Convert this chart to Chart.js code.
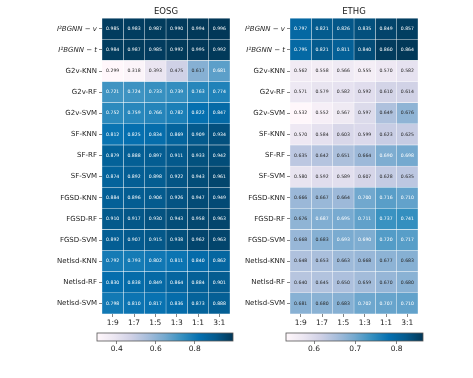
<!DOCTYPE html>
<html>
<head>
<meta charset="utf-8">
<script src="https://cdn.jsdelivr.net/npm/chart.js@4"></script>
<style>
  body { margin: 0; background: #fff; }
  #wrap { position: relative; width: 473px; height: 378px; overflow: hidden; }
  canvas { position: absolute; }
</style>
</head>
<body>
<div id="wrap">
  <canvas id="hmLeft" width="236" height="335" style="left:0px;top:0px"></canvas>
  <canvas id="cbLeft" width="236" height="35" style="left:0px;top:325px"></canvas>
  <canvas id="hmRight" width="237" height="335" style="left:236px;top:0px"></canvas>
  <canvas id="cbRight" width="237" height="35" style="left:236px;top:325px"></canvas>
</div>
<script>
// rows / columns
const rowNames = [
  "I²BGNN − v", "I²BGNN − t",
  "G2v-KNN", "G2v-RF", "G2v-SVM",
  "SF-KNN", "SF-RF", "SF-SVM",
  "FGSD-KNN", "FGSD-RF", "FGSD-SVM",
  "Netlsd-KNN", "Netlsd-RF", "Netlsd-SVM",
];
const ratios = ["1:9", "1:7", "1:5", "1:3", "1:1", "3:1"];

// EOSG values, one array per row
const eosg = [
  [0.985, 0.983, 0.987, 0.990, 0.994, 0.996],
  [0.984, 0.987, 0.985, 0.992, 0.995, 0.992],
  [0.299, 0.318, 0.393, 0.475, 0.617, 0.681],
  [0.721, 0.724, 0.733, 0.739, 0.763, 0.774],
  [0.752, 0.759, 0.766, 0.782, 0.822, 0.847],
  [0.812, 0.825, 0.834, 0.869, 0.909, 0.934],
  [0.879, 0.888, 0.897, 0.911, 0.933, 0.942],
  [0.874, 0.892, 0.898, 0.922, 0.943, 0.961],
  [0.884, 0.896, 0.906, 0.926, 0.947, 0.949],
  [0.910, 0.917, 0.930, 0.943, 0.958, 0.963],
  [0.892, 0.907, 0.915, 0.938, 0.962, 0.963],
  [0.792, 0.793, 0.802, 0.811, 0.840, 0.862],
  [0.830, 0.838, 0.849, 0.864, 0.884, 0.901],
  [0.798, 0.810, 0.817, 0.836, 0.873, 0.888],
];

// ETHG values
const ethg = [
  [0.797, 0.821, 0.826, 0.835, 0.849, 0.857],
  [0.795, 0.821, 0.811, 0.840, 0.860, 0.864],
  [0.562, 0.558, 0.566, 0.555, 0.570, 0.582],
  [0.571, 0.579, 0.582, 0.592, 0.610, 0.614],
  [0.532, 0.552, 0.567, 0.597, 0.649, 0.676],
  [0.570, 0.584, 0.603, 0.599, 0.623, 0.625],
  [0.635, 0.642, 0.651, 0.664, 0.690, 0.698],
  [0.580, 0.592, 0.589, 0.607, 0.628, 0.635],
  [0.666, 0.667, 0.664, 0.700, 0.716, 0.710],
  [0.676, 0.687, 0.695, 0.711, 0.737, 0.741],
  [0.668, 0.683, 0.693, 0.690, 0.720, 0.717],
  [0.648, 0.653, 0.663, 0.668, 0.677, 0.683],
  [0.640, 0.645, 0.650, 0.659, 0.670, 0.680],
  [0.681, 0.680, 0.683, 0.702, 0.707, 0.710],
];

const eosgTicks = [0.4, 0.6, 0.8];
const ethgTicks = [0.6, 0.7, 0.8];

// matplotlib PuBu
const PUBU = ["#fff7fb", "#ece7f2", "#d0d1e6", "#a6bddb", "#74a9cf", "#3690c0", "#0570b0", "#045a8d", "#023858"];
const FONT = "'DejaVu Sans', sans-serif";

function hexRgb(h) {
  return [1, 3, 5].map((i) => parseInt(h.slice(i, i + 2), 16));
}
function pubu(t) {
  t = Math.min(1, Math.max(0, t)) * (PUBU.length - 1);
  const i = Math.min(PUBU.length - 2, Math.floor(t));
  const f = t - i;
  const a = hexRgb(PUBU[i]), b = hexRgb(PUBU[i + 1]);
  return a.map((v, k) => Math.round(v + (b[k] - v) * f));
}
function luminance(rgb) {
  const c = rgb.map((v) => {
    v /= 255;
    return v <= 0.03928 ? v / 12.92 : Math.pow((v + 0.055) / 1.055, 2.4);
  });
  return 0.2126 * c[0] + 0.7152 * c[1] + 0.0722 * c[2];
}

const annotate = {
  id: "annotate",
  afterDatasetsDraw(chart) {
    const { ctx } = chart;
    const vals = chart.options.plugins.annotate.values;
    const lo = chart.options.plugins.annotate.vmin, hi = chart.options.plugins.annotate.vmax;
    ctx.save();
    ctx.font = "4.6px " + FONT;
    ctx.textAlign = "center";
    ctx.textBaseline = "middle";
    chart.data.datasets.forEach((ds, j) => {
      chart.getDatasetMeta(j).data.forEach((bar, i) => {
        const v = vals[i][j];
        const rgb = pubu((v - lo) / (hi - lo));
        ctx.fillStyle = luminance(rgb) > 0.408 ? "#262626" : "#ffffff";
        ctx.fillText(v.toFixed(3), (bar.x + bar.base) / 2, bar.y);
      });
    });
    ctx.restore();
  },
};

function heatmap(id, title, vals, yWidth, padRight) {
  const flat = vals.flat();
  const lo = Math.min(...flat), hi = Math.max(...flat);
  const datasets = ratios.map((r, j) => ({
    label: r,
    data: rowNames.map(() => 1),
    backgroundColor: vals.map((row) => "rgb(" + pubu((row[j] - lo) / (hi - lo)).join(",") + ")"),
    borderColor: "rgba(255,255,255,0.55)",
    borderWidth: 0.5,
    borderSkipped: false,
    categoryPercentage: 1,
    barPercentage: 1,
  }));
  new Chart(document.getElementById(id), {
    type: "bar",
    data: { labels: rowNames, datasets },
    options: {
      indexAxis: "y",
      responsive: false,
      animation: false,
      layout: { padding: { left: 0, right: padRight, top: 0, bottom: 0 } },
      plugins: {
        legend: { display: false },
        tooltip: { enabled: false },
        title: {
          display: true,
          text: title,
          fullSize: false,
          color: "#222",
          font: { family: FONT, size: 8.5, weight: "normal" },
          padding: { top: 7, bottom: 1 },
        },
        annotate: { values: vals, vmin: lo, vmax: hi },
      },
      scales: {
        x: {
          type: "linear",
          stacked: true,
          min: 0,
          max: ratios.length,
          afterBuildTicks: (s) => { s.ticks = ratios.map((_, i) => ({ value: i + 0.5 })); },
          afterFit: (s) => { s.height = 21; },
          ticks: {
            autoSkip: false,
            maxRotation: 0,
            padding: 2,
            color: "#222",
            font: { family: FONT, size: 7.5 },
            callback: (v, i) => ratios[i],
          },
          grid: { drawOnChartArea: false, drawTicks: true, tickLength: 3, color: "#333", lineWidth: 0.6 },
          border: { display: false },
        },
        y: {
          type: "category",
          stacked: true,
          afterFit: (s) => { s.width = yWidth; },
          ticks: {
            autoSkip: false,
            padding: 2,
            color: "#222",
            font: (c) => ({ family: FONT, size: 7, style: c.index < 2 ? "italic" : "normal" }),
          },
          grid: { offset: false, drawOnChartArea: false, drawTicks: true, tickLength: 3, color: "#333", lineWidth: 0.6 },
          border: { display: false },
        },
      },
    },
    plugins: [annotate],
  });
  return [lo, hi];
}

const gradientFill = {
  id: "gradientFill",
  beforeDatasetsDraw(chart) {
    const { ctx, chartArea: a } = chart;
    const g = ctx.createLinearGradient(a.left, 0, a.right, 0);
    PUBU.forEach((c, i) => g.addColorStop(i / (PUBU.length - 1), c));
    ctx.save();
    ctx.fillStyle = g;
    ctx.fillRect(a.left, a.top, a.right - a.left, a.bottom - a.top);
    ctx.strokeStyle = "#555";
    ctx.lineWidth = 0.8;
    ctx.strokeRect(a.left, a.top, a.right - a.left, a.bottom - a.top);
    ctx.restore();
  },
};

function colorbar(id, range, tickVals, padLeft, padRight) {
  new Chart(document.getElementById(id), {
    type: "scatter",
    data: { datasets: [{ data: [] }] },
    options: {
      responsive: false,
      animation: false,
      layout: { padding: { left: padLeft, right: padRight, top: 8, bottom: 0 } },
      plugins: { legend: { display: false }, tooltip: { enabled: false } },
      scales: {
        x: {
          type: "linear",
          min: range[0],
          max: range[1],
          afterBuildTicks: (s) => { s.ticks = tickVals.map((v) => ({ value: v })); },
          afterFit: (s) => { s.height = 19; },
          ticks: {
            autoSkip: false,
            maxRotation: 0,
            padding: 1,
            color: "#222",
            font: { family: FONT, size: 7.5 },
            callback: (v) => v.toFixed(1),
          },
          grid: { drawOnChartArea: false, drawTicks: true, tickLength: 3, color: "#333", lineWidth: 0.6 },
          border: { display: false },
        },
        y: { display: false },
      },
    },
    plugins: [gradientFill],
  });
}

const leftRange = heatmap("hmLeft", "EOSG", eosg, 102, 6);
const rightRange = heatmap("hmRight", "ETHG", ethg, 54, 55);
colorbar("cbLeft", leftRange, eosgTicks, 97, 3);
colorbar("cbRight", rightRange, ethgTicks, 50, 50);
</script>
</body>
</html>
